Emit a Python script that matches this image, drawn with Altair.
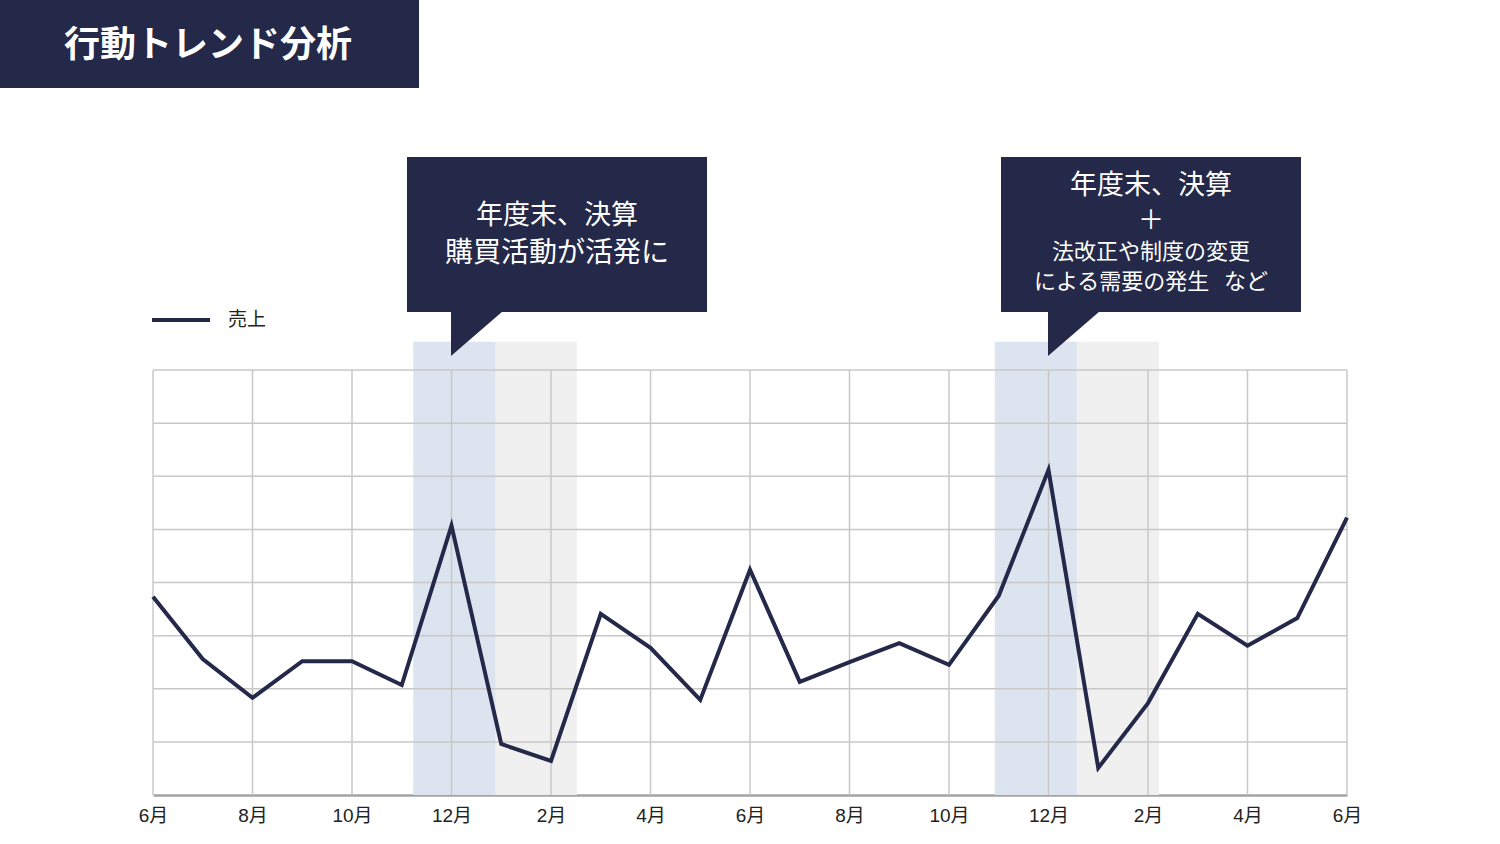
import altair as alt
import pandas as pd

# ---------------- data ----------------
months = list(range(25))  # 6月 .. 翌々年6月
sales = [373, 256, 183, 252, 252, 207, 507, 96, 64, 341, 277, 179, 424,
         213, 250, 286, 245, 375, 612, 51, 173, 341, 281, 333, 522]

tick_values = list(range(0, 25, 2))
tick_labels = ["6月", "8月", "10月", "12月", "2月", "4月", "6月",
               "8月", "10月", "12月", "2月", "4月", "6月"]
grid_levels = [100, 200, 300, 400, 500, 600, 700, 800]

band_start = [5.23, 6.89, 16.92, 18.57]
band_end = [6.89, 8.52, 18.57, 20.22]
band_kind = ["決算期", "翌期", "決算期", "翌期"]
band_top = 853

title_text = "行動トレンド分析"
legend_label = "売上"
callout1_lines = ["年度末、決算", "購買活動が活発に"]
callout2_lines = ["年度末、決算", "＋", "法改正や制度の変更", "による需要の発生\u00a0\u00a0\u00a0など"]

NAVY = "#242849"
FONT = "Noto Sans CJK JP"
AXFONT = "Liberation Sans, Noto Sans CJK JP"

line_df = pd.DataFrame({"m": months, "v": sales})
band_df = pd.DataFrame({"s": band_start, "e": band_end, "k": band_kind})
vgrid_df = pd.DataFrame({"m": tick_values})
hgrid_df = pd.DataFrame({"v": grid_levels})
one = pd.DataFrame({"a": [0]})

xscale = alt.Scale(domain=[0, 24], nice=False, zero=False)
yscale = alt.Scale(domain=[0, 800], nice=False)

label_expr = "[" + ",".join(f"'{t}'" for t in tick_labels) + "][datum.value/2]"

bands = alt.Chart(band_df).mark_rect().encode(
    x=alt.X("s:Q", scale=xscale, axis=alt.Axis(
        values=tick_values, labelExpr=label_expr, grid=False, ticks=False,
        domainColor="#a3a3a3", domainWidth=2.5, labelFontSize=19,
        labelFont=AXFONT, labelColor="#222222", labelPadding=11,
        labelFlush=False, labelOverlap=False, title=None)),
    x2="e:Q",
    y=alt.datum(0, scale=yscale, axis=None),
    y2=alt.datum(band_top),
    color=alt.Color("k:N", scale=alt.Scale(domain=["決算期", "翌期"],
                                            range=["#dce5ef", "#f0f0f0"]), legend=None),
)

vgrid = alt.Chart(vgrid_df).mark_rule(color="#c8c8c8", strokeWidth=1.5).encode(
    x=alt.X("m:Q", scale=xscale), y=alt.datum(0), y2=alt.datum(800))
hgrid = alt.Chart(hgrid_df).mark_rule(color="#c8c8c8", strokeWidth=1.5).encode(
    y=alt.Y("v:Q", scale=yscale), x=alt.datum(0), x2=alt.datum(24))

line = alt.Chart(line_df).mark_line(color=NAVY, strokeWidth=4, strokeJoin="miter").encode(
    x=alt.X("m:Q", scale=xscale), y=alt.Y("v:Q", scale=yscale))

deco = []
# title box
deco.append(alt.Chart(one).mark_rect(color=NAVY).encode(
    x=alt.value(-153), x2=alt.value(266), y=alt.value(-370), y2=alt.value(-282)))
deco.append(alt.Chart(one).mark_text(text=title_text, font=FONT, fontSize=36,
                                    fontWeight="bold", color="white", align="left",
                                    baseline="middle").encode(
    x=alt.value(-89), y=alt.value(-324)))
# legend
deco.append(alt.Chart(one).mark_rule(color=NAVY, strokeWidth=4).encode(
    x=alt.value(-1), x2=alt.value(57), y=alt.value(-50)))
deco.append(alt.Chart(one).mark_text(text=legend_label, font=FONT, fontSize=19,
                                    color="#222222", align="left", baseline="middle").encode(
    x=alt.value(75), y=alt.value(-50)))

tri_path = "M0,0 L2,0 L0,1.73 Z"
for x0, x1, tx in [(254, 554, 298), (848, 1148, 895)]:
    deco.append(alt.Chart(one).mark_rect(color=NAVY).encode(
        x=alt.value(x0), x2=alt.value(x1), y=alt.value(-213), y2=alt.value(-58)))
    deco.append(alt.Chart(one).mark_point(shape=tri_path, filled=True, color=NAVY,
                                         opacity=1, size=2704, strokeWidth=0).encode(
        x=alt.value(tx), y=alt.value(-59)))

c1x = 404
for txt, yy, fs in zip(callout1_lines, [-154, -116], [27, 28]):
    deco.append(alt.Chart(one).mark_text(text=txt, font=FONT, fontSize=fs, color="white",
                                        align="center", baseline="middle").encode(
        x=alt.value(c1x), y=alt.value(yy)))
c2x = 998
for txt, yy, fs in zip(callout2_lines, [-184, -149, -118, -88], [27, 26, 22, 22]):
    deco.append(alt.Chart(one).mark_text(text=txt, font=FONT, fontSize=fs, color="white",
                                        align="center", baseline="middle").encode(
        x=alt.value(c2x), y=alt.value(yy)))

chart = alt.layer(bands, vgrid, hgrid, line, *deco).properties(
    width=1194, height=425,
    autosize=alt.AutoSizeParams(type="none"),
    padding={"left": 153, "top": 370, "right": 153, "bottom": 49},
    background="white",
).configure_view(stroke=None)

chart.save("out.html", embed_options={"renderer": "svg", "actions": False})
